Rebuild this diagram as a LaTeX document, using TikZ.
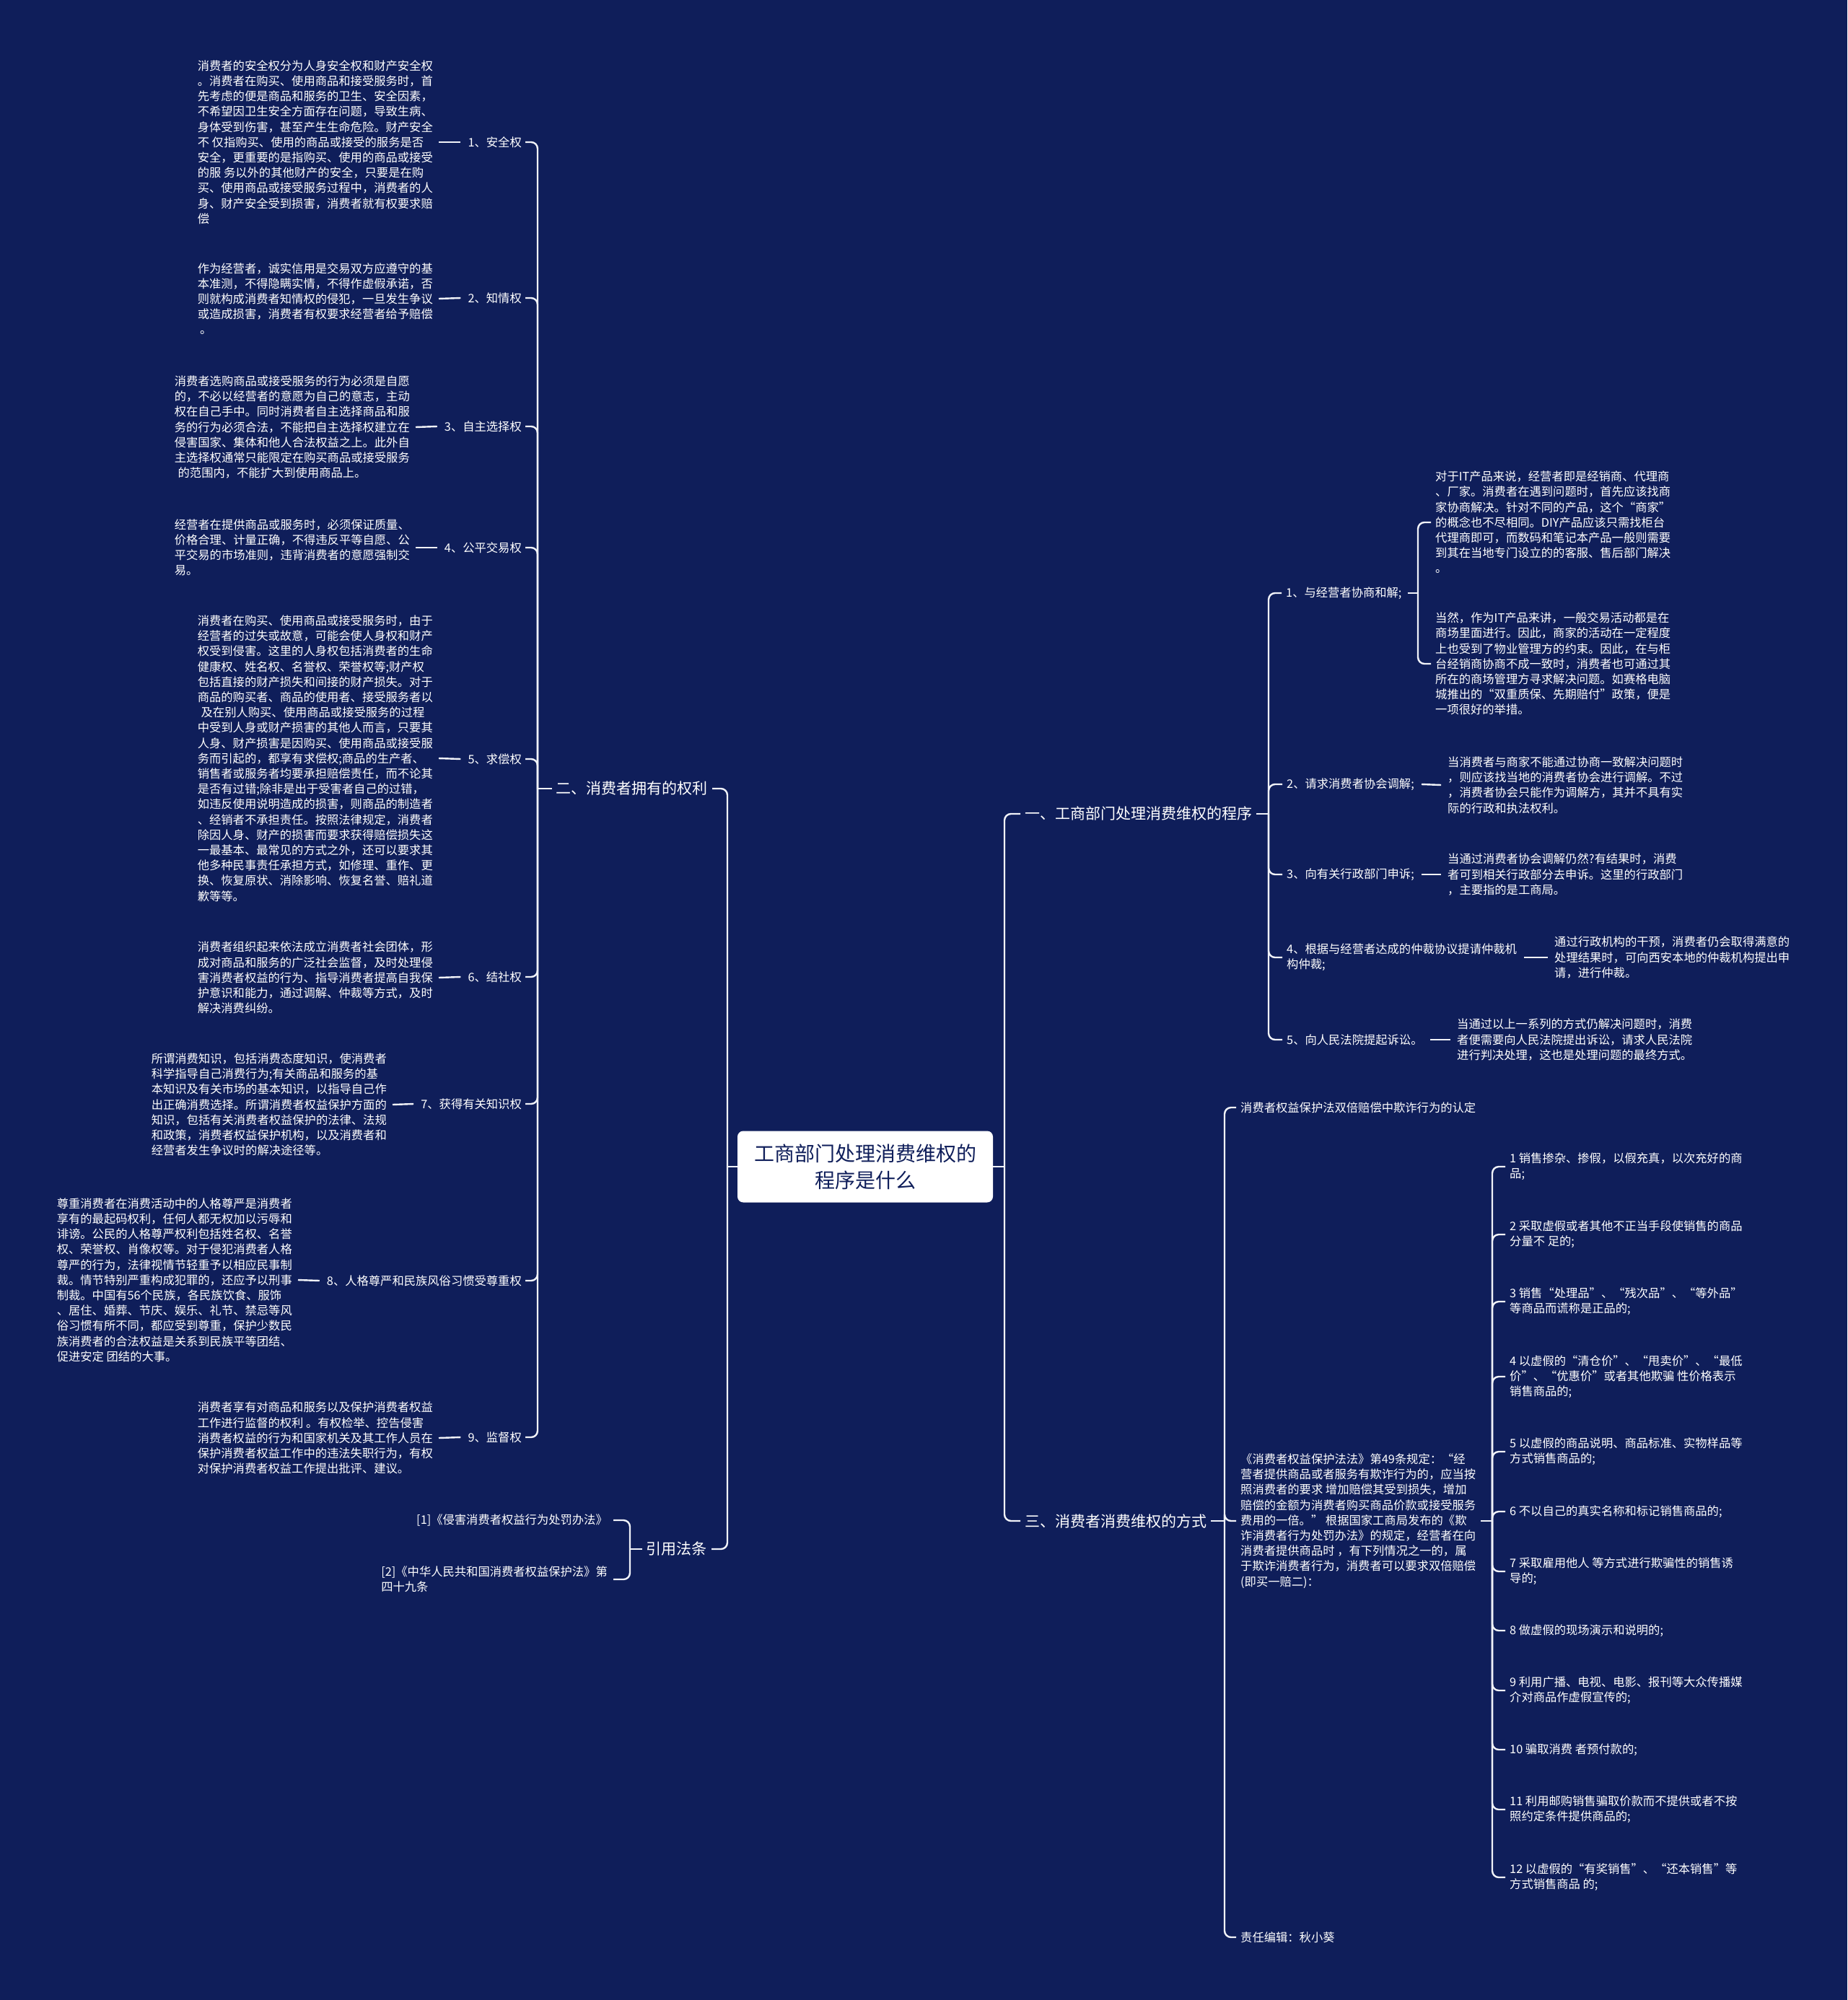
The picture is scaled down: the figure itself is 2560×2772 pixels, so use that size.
\documentclass[tikz,border=0pt]{standalone}
\usepackage{fontspec}
\setmainfont{Noto Sans CJK SC}
\definecolor{bgnavy}{RGB}{15,30,90}
\definecolor{linkwhite}{RGB}{240,242,248}
\tikzset{
	leaf/.style={font=\fontsize{16.3}{21.2}\selectfont,text=white,align=left,inner sep=0pt},
	lbl/.style={font=\fontsize{16.3}{21.2}\selectfont,text=white,align=left,inner sep=0pt},
	branch/.style={font=\fontsize{21}{27}\selectfont,text=white,inner sep=0pt},
	rootbox/.style={fill=white,rounded corners=8pt,minimum width=354pt,minimum height=99pt,align=center,text=bgnavy,font=\fontsize{28}{37}\selectfont},
	conn/.style={draw=linkwhite,line width=2.4pt,rounded corners=9pt}
}
\begin{document}
\begin{tikzpicture}[x=1pt,y=-1pt]
	\fill[bgnavy] (0,0) rectangle (2560,2772);
	\useasboundingbox (0,0) rectangle (2560,2772);

	\node[rootbox] (root) at (1199,1617) {工商部门处理消费维权的\\程序是什么};

	\coordinate (jl) at (1008,1617);
	\coordinate (jr) at (1392,1617);
	\coordinate (j2) at (745,1093);
	\coordinate (j4) at (873,2147);
	\coordinate (j1) at (1758,1128);
	\coordinate (j11) at (1965,822);
	\coordinate (j3) at (1697,2108);
	\coordinate (j32) at (2068,2108);

	\node[branch,anchor=east] (b2) at (981,1093) {二、消费者拥有的权利};
	\node[branch,anchor=east] (b4) at (980,2147) {引用法条};
	\node[branch,anchor=west] (b1) at (1420,1128) {一、工商部门处理消费维权的程序};
	\node[branch,anchor=west] (b3) at (1420,2108) {三、消费者消费维权的方式};

	\node[lbl,anchor=east] (l1) at (723,197) {1、安全权};
	\node[lbl,anchor=east] (l2) at (723,413) {2、知情权};
	\node[lbl,anchor=east] (l3) at (723,591) {3、自主选择权};
	\node[lbl,anchor=east] (l4) at (723,759) {4、公平交易权};
	\node[lbl,anchor=east] (l5) at (723,1052) {5、求偿权};
	\node[lbl,anchor=east] (l6) at (723,1354) {6、结社权};
	\node[lbl,anchor=east] (l7) at (723,1530) {7、获得有关知识权};
	\node[lbl,anchor=east] (l8) at (723,1775) {8、人格尊严和民族风俗习惯受尊重权};
	\node[lbl,anchor=east] (l9) at (723,1992) {9、监督权};

	\node[leaf,anchor=east] (t1) at (600,197) {消费者的安全权分为人身安全权和财产安全权\\。消费者在购买、使用商品和接受服务时，首\\先考虑的便是商品和服务的卫生、安全因素，\\不希望因卫生安全方面存在问题，导致生病、\\身体受到伤害，甚至产生生命危险。财产安全\\不 仅指购买、使用的商品或接受的服务是否\\安全，更重要的是指购买、使用的商品或接受\\的服 务以外的其他财产的安全，只要是在购\\买、使用商品或接受服务过程中，消费者的人\\身、财产安全受到损害，消费者就有权要求赔\\偿};
	\node[leaf,anchor=east] (t2) at (600,414) {作为经营者，诚实信用是交易双方应遵守的基\\本准测，不得隐瞒实情，不得作虚假承诺，否\\则就构成消费者知情权的侵犯，一旦发生争议\\或造成损害，消费者有权要求经营者给予赔偿\\\hspace*{.2em}。};
	\node[leaf,anchor=east] (t3) at (568,592) {消费者选购商品或接受服务的行为必须是自愿\\的，不必以经营者的意愿为自己的意志，主动\\权在自己手中。同时消费者自主选择商品和服\\务的行为必须合法，不能把自主选择权建立在\\侵害国家、集体和他人合法权益之上。此外自\\主选择权通常只能限定在购买商品或接受服务\\\hspace*{.3em}的范围内，不能扩大到使用商品上。};
	\node[leaf,anchor=east] (t4) at (568,759) {经营者在提供商品或服务时，必须保证质量、\\价格合理、计量正确，不得违反平等自愿、公\\平交易的市场准则，违背消费者的意愿强制交\\易。};
	\node[leaf,anchor=east] (t5) at (600,1051) {消费者在购买、使用商品或接受服务时，由于\\经营者的过失或故意，可能会使人身权和财产\\权受到侵害。这里的人身权包括消费者的生命\\健康权、姓名权、名誉权、荣誉权等;财产权\\包括直接的财产损失和间接的财产损失。对于\\商品的购买者、商品的使用者、接受服务者以\\\hspace*{.3em}及在别人购买、使用商品或接受服务的过程\\中受到人身或财产损害的其他人而言，只要其\\人身、财产损害是因购买、使用商品或接受服\\务而引起的，都享有求偿权;商品的生产者、\\销售者或服务者均要承担赔偿责任，而不论其\\是否有过错;除非是出于受害者自己的过错，\\如违反使用说明造成的损害，则商品的制造者\\、经销者不承担责任。按照法律规定，消费者\\除因人身、财产的损害而要求获得赔偿损失这\\一最基本、最常见的方式之外，还可以要求其\\他多种民事责任承担方式，如修理、重作、更\\换、恢复原状、消除影响、恢复名誉、赔礼道\\歉等等。};
	\node[leaf,anchor=east] (t6) at (600,1355) {消费者组织起来依法成立消费者社会团体，形\\成对商品和服务的广泛社会监督，及时处理侵\\害消费者权益的行为、指导消费者提高自我保\\护意识和能力，通过调解、仲裁等方式，及时\\解决消费纠纷。};
	\node[leaf,anchor=east] (t7) at (536,1531) {所谓消费知识，包括消费态度知识，使消费者\\科学指导自己消费行为;有关商品和服务的基\\本知识及有关市场的基本知识，以指导自己作\\出正确消费选择。所谓消费者权益保护方面的\\知识，包括有关消费者权益保护的法律、法规\\和政策，消费者权益保护机构，以及消费者和\\经营者发生争议时的解决途径等。};
	\node[leaf,anchor=east] (t8) at (405,1774) {尊重消费者在消费活动中的人格尊严是消费者\\享有的最起码权利，任何人都无权加以污辱和\\诽谤。公民的人格尊严权利包括姓名权、名誉\\权、荣誉权、肖像权等。对于侵犯消费者人格\\尊严的行为，法律视情节轻重予以相应民事制\\裁。情节特别严重构成犯罪的，还应予以刑事\\制裁。中国有56个民族，各民族饮食、服饰\\、居住、婚葬、节庆、娱乐、礼节、禁忌等风\\俗习惯有所不同，都应受到尊重，保护少数民\\族消费者的合法权益是关系到民族平等团结、\\促进安定 团结的大事。};
	\node[leaf,anchor=east] (t9) at (600,1993) {消费者享有对商品和服务以及保护消费者权益\\工作进行监督的权利 。有权检举、控告侵害\\消费者权益的行为和国家机关及其工作人员在\\保护消费者权益工作中的违法失职行为，有权\\对保护消费者权益工作提出批评、建议。};

	\node[leaf,anchor=east] (r1) at (842,2107) {[1]《侵害消费者权益行为处罚办法》};
	\node[leaf,anchor=east] (r2) at (842,2189) {{[2]}《中华人民共和国消费者权益保护法》第\\四十九条};

	\node[lbl,anchor=west] (p1) at (1782,822) {1、与经营者协商和解;};
	\node[lbl,anchor=west] (p2) at (1783,1087) {2、请求消费者协会调解;};
	\node[lbl,anchor=west] (p3) at (1783,1212) {3、向有关行政部门申诉;};
	\node[lbl,anchor=west] (p4) at (1783,1327) {4、根据与经营者达成的仲裁协议提请仲裁机\\构仲裁;};
	\node[lbl,anchor=west] (p5) at (1783,1441) {5、向人民法院提起诉讼。};

	\node[leaf,anchor=west] (q1) at (1989,724) {对于IT产品来说，经营者即是经销商、代理商\\、厂家。消费者在遇到问题时，首先应该找商\\家协商解决。针对不同的产品，这个“商家”\\的概念也不尽相同。DIY产品应该只需找柜台\\代理商即可，而数码和笔记本产品一般则需要\\到其在当地专门设立的的客服、售后部门解决\\。};
	\node[leaf,anchor=west] (q2) at (1989,920) {当然，作为IT产品来讲，一般交易活动都是在\\商场里面进行。因此，商家的活动在一定程度\\上也受到了物业管理方的约束。因此，在与柜\\台经销商协商不成一致时，消费者也可通过其\\所在的商场管理方寻求解决问题。如赛格电脑\\城推出的“双重质保、先期赔付”政策，便是\\一项很好的举措。};
	\node[leaf,anchor=west] (d2) at (2006,1088) {当消费者与商家不能通过协商一致解决问题时\\，则应该找当地的消费者协会进行调解。不过\\，消费者协会只能作为调解方，其并不具有实\\际的行政和执法权利。};
	\node[leaf,anchor=west] (d3) at (2006,1212) {当通过消费者协会调解仍然?有结果时，消费\\者可到相关行政部分去申诉。这里的行政部门\\，主要指的是工商局。};
	\node[leaf,anchor=west] (d4) at (2154,1327) {通过行政机构的干预，消费者仍会取得满意的\\处理结果时，可向西安本地的仲裁机构提出申\\请，进行仲裁。};
	\node[leaf,anchor=west] (d5) at (2019,1441) {当通过以上一系列的方式仍解决问题时，消费\\者便需要向人民法院提出诉讼，请求人民法院\\进行判决处理，这也是处理问题的最终方式。};

	\node[lbl,anchor=west] (s1) at (1719,1535) {消费者权益保护法双倍赔偿中欺诈行为的认定};
	\node[leaf,anchor=west] (s2) at (1719,2108) {《消费者权益保护法法》第49条规定：“经\\营者提供商品或者服务有欺诈行为的，应当按\\照消费者的要求 增加赔偿其受到损失，增加\\赔偿的金额为消费者购买商品价款或接受服务\\费用的一倍。” 根据国家工商局发布的《欺\\诈消费者行为处罚办法》的规定，经营者在向\\消费者提供商品时 ，有下列情况之一的，属\\于欺诈消费者行为，消费者可以要求双倍赔偿\\(即买一赔二)：};
	\node[lbl,anchor=west] (s3) at (1719,2685) {责任编辑：秋小葵};

	\node[leaf,anchor=west] (u1) at (2092,1617) {1 销售掺杂、掺假，以假充真，以次充好的商\\品;};
	\node[leaf,anchor=west] (u2) at (2092,1711) {2 采取虚假或者其他不正当手段使销售的商品\\分量不 足的;};
	\node[leaf,anchor=west] (u3) at (2092,1804) {3 销售“处理品”、“残次品”、“等外品”\\等商品而谎称是正品的;};
	\node[leaf,anchor=west] (u4) at (2092,1908) {4 以虚假的“清仓价”、“甩卖价”、“最低\\价”、“优惠价”或者其他欺骗 性价格表示\\销售商品的;};
	\node[leaf,anchor=west] (u5) at (2092,2012) {5 以虚假的商品说明、商品标准、实物样品等\\方式销售商品的;};
	\node[leaf,anchor=west] (u6) at (2092,2095) {6 不以自己的真实名称和标记销售商品的;};
	\node[leaf,anchor=west] (u7) at (2092,2178) {7 采取雇用他人 等方式进行欺骗性的销售诱\\导的;};
	\node[leaf,anchor=west] (u8) at (2092,2260) {8 做虚假的现场演示和说明的;};
	\node[leaf,anchor=west] (u9) at (2092,2343) {9 利用广播、电视、电影、报刊等大众传播媒\\介对商品作虚假宣传的;};
	\node[leaf,anchor=west] (u10) at (2092,2425) {10 骗取消费 者预付款的;};
	\node[leaf,anchor=west] (u11) at (2092,2508) {11 利用邮购销售骗取价款而不提供或者不按\\照约定条件提供商品的;};
	\node[leaf,anchor=west] (u12) at (2092,2602) {12 以虚假的“有奖销售”、“还本销售”等\\方式销售商品 的;};

	\draw[conn] (root.west) -- (jl);
	\draw[conn] (root.east) -- (jr);
	\draw[conn] ([xshift=6pt]b2.east) -| (jl);
	\draw[conn] ([xshift=6pt]b4.east) -| (jl);
	\draw[conn] ([xshift=-6pt]b1.west) -| (jr);
	\draw[conn] ([xshift=-6pt]b3.west) -| (jr);

	\draw[conn] ([xshift=-6pt]b2.west) -- (j2);
	\foreach \i in {1,...,9}
		\draw[conn] ([xshift=5pt]l\i.east) -| (j2);
	\foreach \i in {1,...,9}
		\draw[conn] ([xshift=-10pt]l\i.west) -- ([xshift=8pt]t\i.east);

	\draw[conn] ([xshift=-6pt]b4.west) -- (j4);
	\foreach \i in {1,2}
		\draw[conn] ([xshift=8pt]r\i.east) -| (j4);

	\draw[conn] ([xshift=6pt]b1.east) -- (j1);
	\foreach \i in {1,...,5}
		\draw[conn] ([xshift=-6pt]p\i.west) -| (j1);
	\draw[conn] ([xshift=8pt]p1.east) -- (j11);
	\foreach \i in {1,2}
		\draw[conn] ([xshift=-6pt]q\i.west) -| (j11);
	\foreach \i in {2,...,5}
		\draw[conn] ([xshift=10pt]p\i.east) -- ([xshift=-9pt]d\i.west);

	\draw[conn] ([xshift=6pt]b3.east) -- (j3);
	\foreach \i in {1,2,3}
		\draw[conn] ([xshift=-6pt]s\i.west) -| (j3);
	\draw[conn] ([xshift=7pt]s2.east) -- (j32);
	\foreach \i in {1,...,12}
		\draw[conn] ([xshift=-6pt]u\i.west) -| (j32);
\end{tikzpicture}
\end{document}
